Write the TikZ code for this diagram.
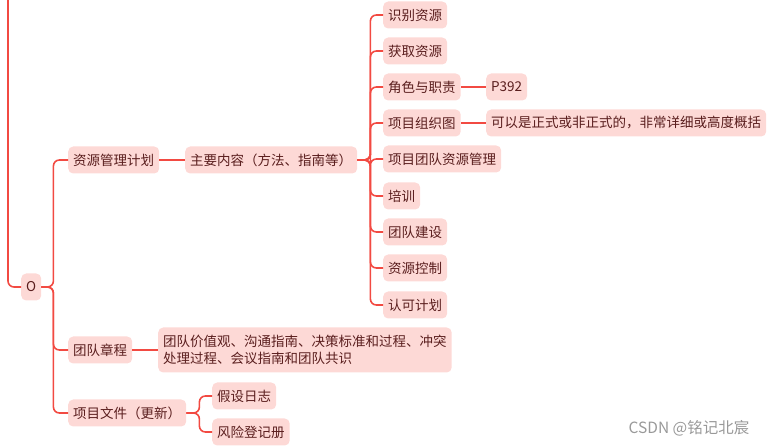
\documentclass[tikz,border=0pt]{standalone}
\usepackage{fontspec}
\setmainfont{Noto Sans CJK SC}
\usepackage{tikz}
\definecolor{boxfill}{HTML}{FDD9D6}
\definecolor{linkred}{HTML}{F24A42}
\definecolor{boxtext}{HTML}{5A1E1E}
\tikzset{
  topicbox/.style = {fill=boxfill,text=boxtext,rounded corners=5pt,anchor=west,
                     inner xsep=5pt,minimum height=27pt,
                     font=\fontsize{13.5}{17}\selectfont},
  linkline/.style = {draw=linkred,line width=1.6pt,rounded corners=6pt},
  wmark/.style    = {text=gray!80,font=\fontsize{15.5}{18}\selectfont}
}

\begin{document}
\begin{tikzpicture}[x=1pt,y=1pt]
  \useasboundingbox (0,0) rectangle (769,-446);
  % root and first level
  \node[topicbox] (o)    at (21,-287)  {O};
  \node[topicbox] (plan) at (68,-160)  {资源管理计划};
  \node[topicbox] (main) at (185,-160) {主要内容（方法、指南等）};
  \node[topicbox] (char) at (68,-350)  {团队章程};
  \node[topicbox,align=left,minimum height=45pt] (charv) at (158,-350) {团队价值观、沟通指南、决策标准和过程、冲突\\处理过程、会议指南和团队共识};
  \node[topicbox] (docs) at (68,-413)  {项目文件（更新）};
  \node[topicbox] (alog) at (212,-396) {假设日志};
  \node[topicbox] (risk) at (212,-432) {风险登记册};
  % contents of the plan
  \node[topicbox] (c1) at (383,-15)  {识别资源};
  \node[topicbox] (c2) at (383,-51)  {获取资源};
  \node[topicbox] (c3) at (383,-87)  {角色与职责};
  \node[topicbox] (c4) at (383,-123) {项目组织图};
  \node[topicbox] (c5) at (383,-159) {项目团队资源管理};
  \node[topicbox] (c6) at (383,-196) {培训};
  \node[topicbox] (c7) at (383,-232) {团队建设};
  \node[topicbox] (c8) at (383,-268) {资源控制};
  \node[topicbox] (c9) at (383,-305) {认可计划};
  \node[topicbox] (p392) at (486,-87)  {P392};
  \node[topicbox] (orgn) at (486,-123) {可以是正式或非正式的，非常详细或高度概括};
  \coordinate (top) at (8,0);
  % links
  \draw[linkline] (top) |- (o.west);
  \foreach \c in {plan,char,docs} { \draw[linkline] (o.east) -- ++(12,0) |- (\c.west); }
  \draw[linkline] (plan) -- (main);
  \foreach \c in {c1,c2,c3,c4,c5,c6,c7,c8,c9} { \draw[linkline] (main.east) -- ++(13,0) |- (\c.west); }
  \draw[linkline] (c3) -- (p392);
  \draw[linkline] (c4) -- (orgn);
  \draw[linkline] (char) -- (charv);
  \foreach \c in {alog,risk} { \draw[linkline] (docs.east) -- ++(13,0) |- (\c.west); }
  \node[wmark] (mark) at (689,-428) {CSDN @铭记北宸};
\end{tikzpicture}
\end{document}
